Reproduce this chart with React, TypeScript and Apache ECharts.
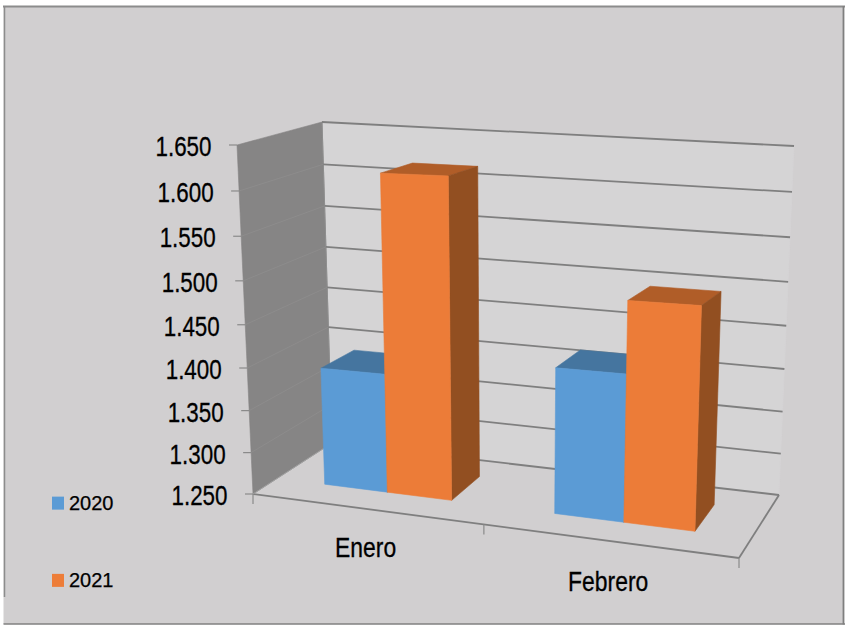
import React, { useEffect, useRef } from "react";
import * as echarts from "echarts";

const categories = ["Enero", "Febrero"];
const values2020 = [1390, 1415];
const values2021 = [1616, 1494];
const valueTicks = [1250, 1300, 1350, 1400, 1450, 1500, 1550, 1600, 1650];
const tickLabels = ["1.250", "1.300", "1.350", "1.400", "1.450", "1.500", "1.550", "1.600", "1.650"];

const FONT = '"Liberation Sans", Arial, sans-serif';
const GRID = { left: 253, top: 145, width: 486, height: 349 };

// Corners of the 3D box on the page: floor / ceiling, front / back, left / right.
const BOX = {
  fl0: [253, 494], fr0: [739, 558], bl0: [332, 443], br0: [779, 495],
  fl1: [237, 145], fr1: [753, 158], bl1: [322, 122], br1: [794, 146],
};
const K = 1.105; // foreshortening along the category axis
const KV = 1.062; // foreshortening along the value axis
const DEPTH_FRONT = 0.31;
const DEPTH_BACK = 0.74;
const BAR_HALF = 0.141;

const mix = (a: number[], b: number[], f: number) => [a[0] + (b[0] - a[0]) * f, a[1] + (b[1] - a[1]) * f];
function project(t: number, s: number, w: number) {
  const u = t / (t + K * (1 - t));
  const v = s / (s + KV * (1 - s));
  const floor = mix(mix(BOX.fl0, BOX.fr0, u), mix(BOX.bl0, BOX.br0, u), w);
  const ceil = mix(mix(BOX.fl1, BOX.fr1, u), mix(BOX.bl1, BOX.br1, u), w);
  return mix(floor, ceil, v);
}
const toT = (px: number) => (px - GRID.left) / GRID.width;
const toV = (py: number) => (GRID.top + GRID.height - py) / GRID.height;

const poly = (points: number[][], fill: string, stroke?: string, lineWidth = 0.6) => ({
  type: "polygon",
  shape: { points },
  style: { fill, stroke: stroke || fill, lineWidth },
  silent: true,
});
const line = (a: number[], b: number[], stroke: string, lineWidth = 1.5) => ({
  type: "line",
  shape: { x1: a[0], y1: a[1], x2: b[0], y2: b[1] },
  style: { stroke, lineWidth, fill: "none" },
  silent: true,
});
const label = (text: string, x: number, y: number, size: number, align: string, scaleY: number) => ({
  type: "text",
  x,
  y,
  scaleY,
  silent: true,
  style: {
    text, x: 0, y: 0, fill: "#000", stroke: "#000", lineWidth: 0.25,
    font: `${size}px ${FONT}`, align, verticalAlign: "middle",
  },
});

function renderFrame(_: any, api: any) {
  const children: any[] = [];
  // page panel and its border (the left side stops short of the corner)
  children.push({
    type: "rect",
    shape: { x: 3.5, y: 6, width: 840, height: 618 },
    style: { fill: "#D1CFD0" },
    silent: true,
  });
  children.push(line([3, 6.5], [845, 6.5], "#8C8C8C", 1.8));
  children.push(line([843.5, 6], [843.5, 624.5], "#7F7F7F", 1.8));
  children.push(line([3.5, 624], [845, 624], "#808080", 1.6));
  children.push(line([4.5, 6], [4.5, 597], "#8C8C8C", 1.5));
  // back wall
  children.push(poly([project(0, 1, 1), project(1, 1, 1), project(1, 0, 1), project(0, 0, 1)], "#D5D4D5", "#D5D4D5"));
  // left wall
  children.push(poly([project(0, 1, 0), project(0, 1, 1), project(0, 0, 1), project(0, 0, 0)], "#868585", "#868585"));
  children.push(line(project(0, 1, 1), project(0, 0, 1), "#8E8E8E", 1));

  valueTicks.forEach((tick, i) => {
    const v = toV(api.coord([0, tick])[1]);
    const front = project(0, v, 0);
    if (i > 0 && i < valueTicks.length - 1) {
      children.push(line(front, project(0, v, 1), "#8D8C8C", 1));
    }
    children.push(line(project(0, v, 1), project(1, v, 1), "#7F7F7F", 1.8));
    children.push(line([front[0] - 8, front[1]], front, "#8A8A8A", 1.2));
    children.push(label(tickLabels[i], front[0] - 25.5, front[1] + 1, 22.4, "right", 1.25));
  });

  // floor edges
  children.push(line(project(0, 0, 0), project(1, 0, 0), "#7F7F7F", 1.8));
  children.push(line(project(1, 0, 0), project(1, 0, 1), "#7F7F7F", 1.8));
  children.push(line(project(0, 0, 0), project(0, 0, 1), "#A0A0A0", 1));

  // category ticks and labels
  [0, 0.5, 1].forEach((t) => {
    const p = project(t, 0, 0);
    children.push(line(p, [p[0], p[1] + 10], "#8A8A8A", 1.2));
  });
  categories.forEach((name, i) => {
    const t = toT(api.coord([i, 1250])[0]);
    const p = project(t, 0, 0);
    children.push(label(name, p[0], p[1] + 38 + i * 2, 22.9, "center", 1.22));
  });
  return { type: "group", children };
}

const barRenderer = (side: -1 | 1, front: string, top: string, right: string) =>
  function (_: any, api: any) {
    const pos = api.coord([api.value(0), api.value(1)]);
    const band = api.size([1, 0])[0] / GRID.width;
    const c = toT(pos[0]);
    const v = toV(pos[1]);
    const half = BAR_HALF * (band / 0.5);
    const t0 = side < 0 ? c - half : c;
    const t1 = side < 0 ? c : c + half;
    const a = DEPTH_FRONT;
    const b = DEPTH_BACK;
    return {
      type: "group",
      children: [
        poly([project(t0, v, a), project(t0, v, b), project(t1, v, b), project(t1, v, a)], top),
        poly([project(t1, v, a), project(t1, v, b), project(t1, 0, b), project(t1, 0, a)], right),
        poly([project(t0, v, a), project(t1, v, a), project(t1, 0, a), project(t0, 0, a)], front),
      ],
    };
  };

export default function App() {
  const ref = useRef<HTMLDivElement>(null);
  useEffect(() => {
    const chart = echarts.init(ref.current!, undefined, { renderer: "svg" });
    chart.setOption({
      animation: false,
      backgroundColor: "#FFFFFF",
      grid: { ...GRID, containLabel: false },
      xAxis: { type: "category", data: categories, show: false },
      yAxis: { type: "value", min: 1250, max: 1650, interval: 50, show: false },
      legend: {
        data: ["2020", "2021"],
        orient: "vertical",
        left: 47,
        top: 488,
        icon: "rect",
        itemWidth: 12,
        itemHeight: 13,
        itemGap: 57,
        selectedMode: false,
        textStyle: { fontFamily: FONT, fontSize: 20, color: "#000", textBorderColor: "#000", textBorderWidth: 0.25 },
      },
      series: [
        {
          name: "frame",
          type: "custom",
          coordinateSystem: "cartesian2d",
          silent: true,
          clip: false,
          z: 1,
          data: [[0, 1250]],
          encode: { x: 0, y: 1 },
          renderItem: renderFrame,
        },
        {
          name: "2020",
          type: "custom",
          coordinateSystem: "cartesian2d",
          silent: true,
          clip: false,
          z: 2,
          itemStyle: { color: "#5B9BD5" },
          data: values2020.map((v, i) => [i, v]),
          encode: { x: 0, y: 1 },
          renderItem: barRenderer(-1, "#5B9BD5", "#45759F", "#3A6590"),
        },
        {
          name: "2021",
          type: "custom",
          coordinateSystem: "cartesian2d",
          silent: true,
          clip: false,
          z: 3,
          itemStyle: { color: "#ED7D38" },
          data: values2021.map((v, i) => [i, v]),
          encode: { x: 0, y: 1 },
          renderItem: barRenderer(1, "#EC7C38", "#B05D28", "#924F21"),
        },
      ],
    });
    return () => chart.dispose();
  }, []);
  return <div ref={ref} style={{ position: "fixed", left: 0, top: 0, width: 850, height: 628 }} />;
}
